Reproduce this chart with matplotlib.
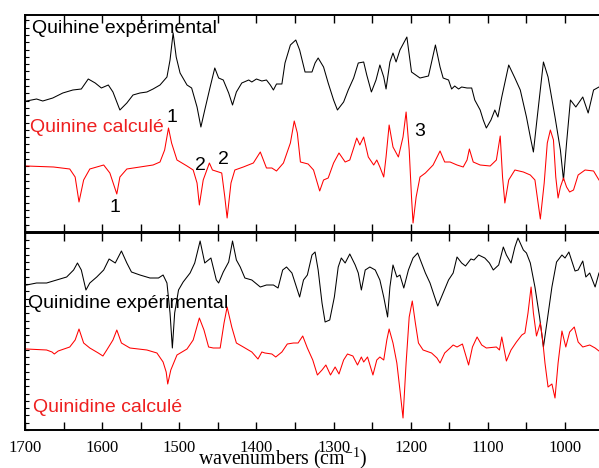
import matplotlib
matplotlib.use("Agg")
import matplotlib.pyplot as plt
from matplotlib.ticker import MultipleLocator, NullFormatter

plt.rcParams['mathtext.fontset'] = 'custom'
plt.rcParams['mathtext.rm'] = 'Liberation Serif'
plt.rcParams['mathtext.it'] = 'Liberation Serif:italic'

# ---------------- data (wavenumber cm-1, intensity a.u.) ----------------
quinine_exp_w = [1698, 1685, 1677, 1664, 1651, 1638, 1627, 1618, 1609, 1601, 1592, 1586, 1577, 1568,
                 1560, 1551, 1542, 1534, 1525, 1516, 1512, 1508, 1504, 1499, 1490, 1484, 1477, 1472,
                 1467, 1460, 1454, 1449, 1443, 1436, 1431, 1426, 1419, 1410, 1406, 1400, 1393, 1387,
                 1382, 1378, 1374, 1367, 1363, 1356, 1349, 1344, 1337, 1328, 1324, 1320, 1313, 1307,
                 1300, 1295, 1287, 1281, 1274, 1268, 1261, 1257, 1251, 1245, 1240, 1235, 1232, 1227,
                 1223, 1219, 1214, 1205, 1199, 1188, 1177, 1168, 1162, 1158, 1151, 1147, 1143, 1138,
                 1134, 1127, 1121, 1117, 1110, 1106, 1102, 1096, 1091, 1087, 1082, 1073, 1065, 1058,
                 1050, 1045, 1041, 1036, 1028, 1022, 1013, 1006, 1002, 998, 993, 986, 977, 970, 963, 956]
quinine_exp_i = [131, 133, 131, 134, 139, 142, 143, 153, 149, 144, 147, 140, 122, 129,
                 137, 139, 140, 143, 147, 155, 172, 199, 175, 159, 147, 144, 125, 105,
                 122, 145, 164, 154, 152, 139, 127, 140, 149, 152, 150, 153, 151, 152,
                 147, 142, 148, 148, 169, 187, 192, 182, 160, 160, 169, 174, 165, 149,
                 132, 122, 130, 142, 154, 169, 170, 157, 140, 152, 167, 155, 143, 170,
                 179, 170, 182, 195, 160, 154, 156, 187, 165, 154, 152, 143, 146, 143,
                 145, 144, 144, 132, 122, 112, 104, 112, 122, 115, 135, 167, 154, 142,
                 115, 95, 80, 115, 170, 155, 115, 82, 52, 89, 132, 125, 135, 119, 142, 145]

quinine_calc_w = [1698, 1663, 1642, 1635, 1630, 1624, 1616, 1598, 1590, 1581, 1577, 1568, 1551, 1534,
                  1525, 1519, 1514, 1510, 1503, 1490, 1482, 1477, 1474, 1469, 1461, 1457, 1449, 1445,
                  1441, 1438, 1433, 1428, 1417, 1404, 1395, 1387, 1380, 1374, 1365, 1356, 1351, 1347,
                  1343, 1333, 1326, 1318, 1313, 1307, 1300, 1293, 1285, 1279, 1274, 1270, 1266, 1261,
                  1255, 1248, 1244, 1240, 1235, 1232, 1228, 1223, 1216, 1210, 1206, 1202, 1199, 1197,
                  1193, 1188, 1181, 1171, 1162, 1156, 1149, 1140, 1132, 1127, 1124, 1119, 1110, 1097,
                  1089, 1084, 1081, 1078, 1073, 1065, 1054, 1045, 1039, 1036, 1032, 1027, 1023, 1019,
                  1015, 1012, 1009, 1006, 1002, 998, 994, 989, 983, 974, 963, 956]
quinine_calc_i = [66, 65, 63, 55, 30, 52, 63, 67, 59, 38, 55, 63, 65, 67,
                  70, 82, 104, 89, 72, 66, 62, 49, 27, 52, 69, 62, 60, 59,
                  35, 14, 49, 62, 65, 69, 80, 64, 64, 61, 69, 89, 111, 99,
                  70, 68, 62, 41, 52, 54, 69, 79, 70, 72, 84, 94, 87, 95,
                  75, 67, 72, 65, 55, 75, 107, 85, 75, 95, 120, 82, 35, 9,
                  35, 55, 59, 67, 81, 70, 70, 67, 65, 72, 83, 70, 67, 66,
                  72, 96, 55, 29, 52, 62, 60, 57, 52, 35, 13, 49, 89, 102,
                  92, 55, 34, 45, 54, 45, 40, 42, 57, 62, 61, 52]

quinidine_exp_w = [1698, 1685, 1672, 1659, 1646, 1637, 1632, 1627, 1621, 1616, 1607, 1598, 1591, 1583,
                   1575, 1568, 1562, 1551, 1538, 1527, 1521, 1516, 1512, 1509, 1506, 1501, 1495, 1486,
                   1480, 1473, 1467, 1459, 1452, 1449, 1443, 1436, 1431, 1426, 1421, 1415, 1406, 1395,
                   1387, 1378, 1372, 1366, 1361, 1354, 1349, 1344, 1339, 1334, 1328, 1324, 1320, 1315,
                   1311, 1305, 1299, 1294, 1290, 1285, 1279, 1272, 1268, 1264, 1259, 1253, 1246, 1240,
                   1235, 1230, 1227, 1223, 1218, 1214, 1209, 1203, 1197, 1191, 1181, 1175, 1169, 1165,
                   1158, 1151, 1145, 1140, 1134, 1129, 1122, 1118, 1112, 1104, 1098, 1093, 1086, 1080,
                   1076, 1070, 1065, 1061, 1054, 1050, 1045, 1039, 1033, 1028, 1023, 1017, 1011, 1004,
                   1000, 995, 987, 983, 977, 973, 968, 961, 956]
quinidine_exp_i = [145, 147, 147, 150, 153, 160, 167, 160, 140, 147, 153, 160, 171, 167,
                   179, 167, 158, 155, 152, 152, 155, 147, 117, 82, 117, 140, 148, 157,
                   167, 189, 167, 172, 150, 147, 158, 168, 189, 170, 163, 152, 150, 143,
                   145, 145, 142, 160, 163, 157, 145, 133, 150, 155, 175, 178, 160, 127,
                   108, 110, 133, 163, 172, 167, 176, 165, 157, 140, 160, 163, 160, 150,
                   133, 113, 143, 165, 153, 155, 142, 160, 172, 177, 157, 147, 133, 124,
                   137, 150, 157, 173, 167, 164, 171, 170, 175, 172, 167, 160, 165, 183,
                   175, 167, 183, 192, 180, 177, 167, 143, 113, 83, 110, 143, 168, 175,
                   172, 178, 159, 160, 169, 153, 157, 143, 157]

quinidine_calc_w = [1698, 1672, 1665, 1662, 1657, 1642, 1635, 1630, 1624, 1616, 1605, 1599, 1594, 1586,
                    1581, 1575, 1564, 1542, 1529, 1521, 1517, 1515, 1511, 1503, 1490, 1482, 1474, 1468,
                    1462, 1456, 1447, 1442, 1438, 1432, 1426, 1417, 1406, 1398, 1393, 1389, 1380, 1375,
                    1367, 1360, 1352, 1346, 1340, 1334, 1327, 1321, 1315, 1310, 1304, 1298, 1293, 1287,
                    1282, 1275, 1269, 1264, 1261, 1256, 1249, 1244, 1240, 1235, 1231, 1228, 1223, 1218,
                    1214, 1210, 1206, 1202, 1198, 1194, 1190, 1184, 1173, 1166, 1162, 1156, 1149, 1145,
                    1140, 1133, 1125, 1120, 1114, 1108, 1102, 1089, 1085, 1082, 1076, 1070, 1063, 1056,
                    1052, 1048, 1044, 1041, 1037, 1032, 1029, 1026, 1022, 1017, 1013, 1009, 1004, 999,
                    994, 988, 983, 977, 968, 961, 956]
quinidine_calc_i = [81, 80, 78, 76, 79, 83, 90, 101, 87, 82, 77, 74, 80, 90,
                    100, 87, 82, 80, 77, 68, 58, 46, 60, 75, 81, 90, 112, 100,
                    83, 82, 82, 107, 123, 103, 87, 83, 78, 71, 78, 77, 76, 73,
                    78, 86, 87, 87, 94, 82, 70, 55, 60, 65, 55, 63, 56, 70,
                    76, 74, 65, 73, 68, 73, 55, 70, 73, 70, 90, 101, 87, 67,
                    40, 12, 67, 113, 129, 107, 87, 80, 77, 72, 67, 77, 82, 85,
                    83, 86, 65, 83, 93, 85, 82, 83, 80, 93, 69, 80, 88, 95,
                    97, 117, 143, 117, 94, 107, 90, 67, 43, 46, 32, 67, 99, 83,
                    98, 103, 88, 83, 85, 82, 79]

x_ticks = [1700, 1600, 1500, 1400, 1300, 1200, 1100, 1000]

# ---------------- figure ----------------
W, H = 599, 468
fig = plt.figure(figsize=(W / 100, H / 100), dpi=100)
left = 25 / W
width = 578.6 / W
ax1 = fig.add_axes([left, 236 / H, width, 217 / H])
ax2 = fig.add_axes([left, 38 / H, width, 197 / H])

lw = 0.75
ax1.plot(quinine_exp_w, quinine_exp_i, color='black', lw=lw)
ax1.plot(quinine_calc_w, quinine_calc_i, color='#ff0000', lw=lw)
ax2.plot(quinidine_exp_w, quinidine_exp_i, color='black', lw=lw)
ax2.plot(quinidine_calc_w, quinidine_calc_i, color='#ff0000', lw=lw)

ax1.set_ylim(0, 217)
ax2.set_ylim(0, 197)

for ax in (ax1, ax2):
    ax.set_xlim(1700, 950)
    for s in ax.spines.values():
        s.set_linewidth(1.4)
    ax.spines['right'].set_visible(False)
    ax.xaxis.set_major_locator(MultipleLocator(100))
    ax.xaxis.set_minor_locator(MultipleLocator(50))
    ax.yaxis.set_major_locator(MultipleLocator(7.3))
    ax.yaxis.set_major_formatter(NullFormatter())
    ax.tick_params(axis='y', which='both', direction='in', length=3, width=0.8,
                   left=True, right=False)
    ax.tick_params(axis='x', which='both', direction='in', length=5.5, width=1.0,
                   top=True, bottom=True)

ax1.tick_params(axis='x', which='both', labelbottom=False)
ax2.set_xticks(x_ticks)
ax2.set_xticklabels([str(t) for t in x_ticks], family='Liberation Serif', fontsize=12)
ax2.tick_params(axis='x', which='major', pad=7)

sans = 'Liberation Sans'
fs = 14
ax1.text(1691, 199, 'Quinine expérimental', color='black', family=sans, fontsize=fs, va='baseline')
ax1.text(1693, 100, 'Quinine calculé', color='#ee2020', family=sans, fontsize=fs, va='baseline')
ax1.text(1509, 114, '1', color='black', family=sans, fontsize=fs, ha='center', va='center')
ax1.text(1583, 24, '1', color='black', family=sans, fontsize=fs, ha='center', va='center')
ax1.text(1473, 66, '2', color='black', family=sans, fontsize=fs, ha='center', va='center')
ax1.text(1443, 73, '2', color='black', family=sans, fontsize=fs, ha='center', va='center')
ax1.text(1188, 101, '3', color='black', family=sans, fontsize=fs, ha='center', va='center')
ax2.text(1696, 122, 'Quinidine expérimental', color='black', family=sans, fontsize=fs, va='baseline')
ax2.text(1690, 18, 'Quinidine calculé', color='#ee2020', family=sans, fontsize=fs, va='baseline')

fig.text(283 / W, 4 / H, 'wavenumbers (cm$^{-1}$)', family='Liberation Serif',
         fontsize=14.3, ha='center', va='baseline')

fig.savefig('out.png', dpi=100)
